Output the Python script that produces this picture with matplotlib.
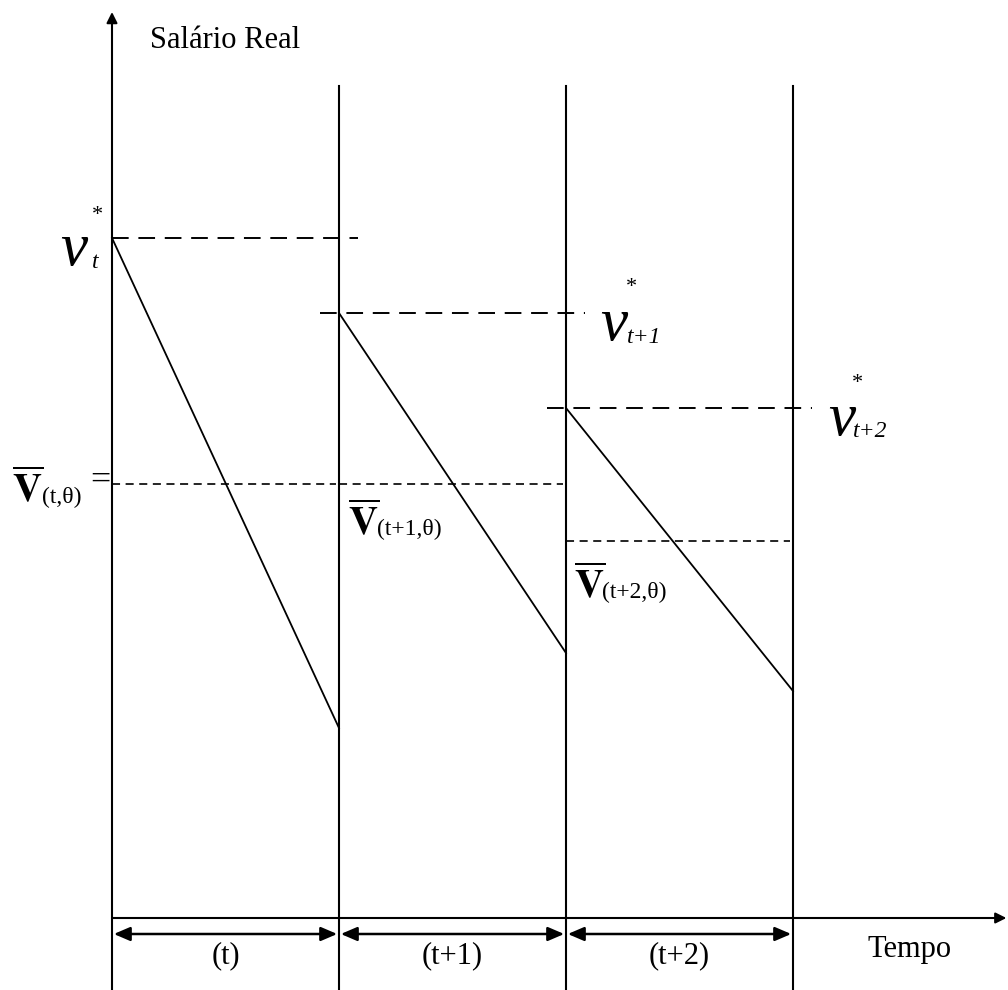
import numpy as np
import matplotlib
matplotlib.use('Agg')
from matplotlib import pyplot as plt
from matplotlib.patches import FancyArrowPatch

# dados do grafico (salario real em cada periodo)
periodos = [0, 1, 2, 3]                 # limites dos periodos
v_inicio = [68.0, 60.5, 51.0]           # v* no inicio de cada periodo
v_fim = [19.0, 26.5, 22.7]              # salario no fim do periodo
v_media = [43.4, 43.4, 37.7]            # salario medio do periodo
rotulos = ['(t)', '(t+1)', '(t+2)']
subs_v = ['t', 't+1', 't+2']
subs_media = ['(t,\u03b8)', '(t+1,\u03b8)', '(t+2,\u03b8)']

plt.rcParams['font.family'] = ['Liberation Serif', 'DejaVu Serif']
plt.rcParams['mathtext.fontset'] = 'stix'
plt.rcParams['lines.scale_dashes'] = False

fig = plt.figure(figsize=(10.08, 9.9), dpi=100)
ax = fig.add_axes([0, 0, 1, 1])
# escala: 227 px por periodo, 10 px por unidade de salario
ax.set_xlim(-112 / 227, (1008 - 112) / 227)
ax.set_ylim(-7.2, 91.8)
ax.axis('off')

lw = 1.5
yb = -7.2

# eixos
ax.annotate('', xy=(0, 90.6), xytext=(0, yb),
            arrowprops=dict(arrowstyle='-|>', lw=lw, color='k', mutation_scale=16,
                            shrinkA=0, shrinkB=0))
ax.annotate('', xy=(3.94, 0), xytext=(0, 0),
            arrowprops=dict(arrowstyle='-|>', lw=lw, color='k', mutation_scale=16,
                            shrinkA=0, shrinkB=0))

# linhas verticais de reajuste
for p in periodos[1:]:
    ax.plot([p, p], [yb, 83.2], color='k', lw=lw)

longo = (0, (12, 7))
curto = (0, (5.8, 4))
for k in range(len(v_inicio)):
    # dente de serra
    ax.plot([periodos[k], periodos[k + 1]], [v_inicio[k], v_fim[k]], color='k', lw=1.3)
    # v* tracejado
    x0 = periodos[k] - 0.084 if k > 0 else periodos[k]
    ax.plot([x0, periodos[k + 1] + 0.084], [v_inicio[k], v_inicio[k]],
            color='k', lw=1.4, linestyle=longo)
    # media tracejada
    ax.plot([periodos[k], periodos[k + 1] - 0.013], [v_media[k], v_media[k]],
            color='k', lw=1.2, linestyle=curto)
    # seta dupla do periodo
    seta = FancyArrowPatch((periodos[k] + 0.008, -1.6), (periodos[k + 1] - 0.008, -1.6),
                           arrowstyle='<|-|>,head_length=0.7,head_width=0.3',
                           mutation_scale=14, lw=1.8, color='k', shrinkA=0, shrinkB=0)
    ax.add_patch(seta)
    ax.text((periodos[k] + periodos[k + 1]) / 2, -4.5, rotulos[k], fontsize=22,
            ha='center', va='baseline')

# rotulos v*
pos_v = [(-0.229, 65.3), (2.15, 57.8), (3.154, 48.3)]
pos_sub = [(-0.088, 65.0), (2.268, 57.5), (3.266, 48.1)]
pos_est = [(-0.066, 70.3), (2.29, 63.0), (3.285, 53.4)]
for k in range(3):
    ax.text(pos_v[k][0], pos_v[k][1], 'v', fontsize=44, fontstyle='italic',
            ha='left', va='baseline')
    ax.text(pos_sub[k][0], pos_sub[k][1], subs_v[k], fontsize=17, fontstyle='italic',
            ha='left', va='baseline')
    ax.text(pos_est[k][0], pos_est[k][1], '*', fontsize=16, ha='center', va='center')

# rotulos das medias
pos_V = [(-0.4405, 41.6), (1.040, 38.3), (2.035, 32.0)]
pos_subV = [(-0.308, 41.5), (1.167, 38.3), (2.159, 32.0)]
for k in range(3):
    ax.text(pos_V[k][0], pos_V[k][1], r'$\overline{\mathbf{V}}$', fontsize=29,
            ha='left', va='baseline')
    ax.text(pos_subV[k][0], pos_subV[k][1], subs_media[k], fontsize=17,
            ha='left', va='baseline')
ax.text(-0.053, 42.8, '=', fontsize=26, ha='center', va='baseline')

ax.text(0.167, 87.0, 'Salário Real', fontsize=22, ha='left', va='baseline')
ax.text(3.330, -3.9, 'Tempo', fontsize=22, ha='left', va='baseline')

fig.savefig('out.png', dpi=100)
